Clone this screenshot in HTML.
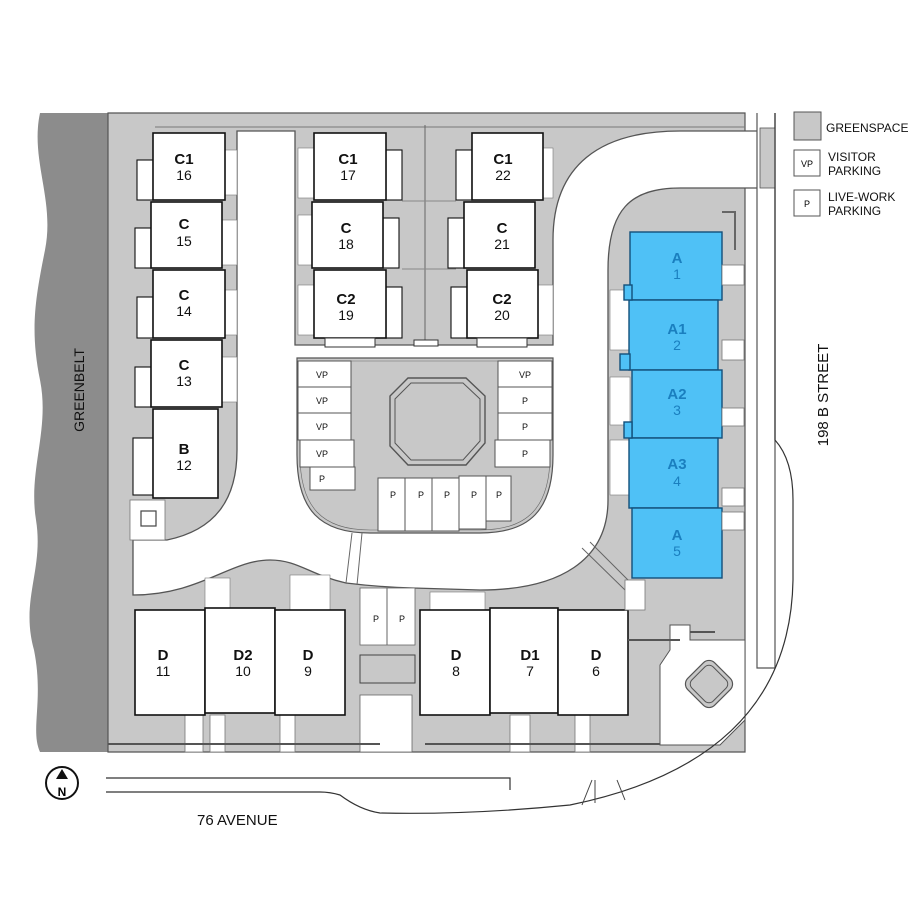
<!DOCTYPE html>
<html><head><style>
html,body{margin:0;padding:0;background:#fff;width:915px;height:915px;overflow:hidden}
svg{display:block}
text{font-family:"Liberation Sans",sans-serif}
.b{fill:#fff;stroke:#111;stroke-width:1.6}
.w{fill:#fff;stroke:#111;stroke-width:1.1}
.a{fill:#4fc1f6;stroke:#134f7a;stroke-width:1.4}
.s{fill:#fff;stroke:#555;stroke-width:1}
.l{font-size:15px;font-weight:bold;text-anchor:middle;fill:#111}
.n{font-size:14px;text-anchor:middle;fill:#111}
.al{font-size:15px;font-weight:bold;text-anchor:middle;fill:#1a7fbf}
.an{font-size:14px;text-anchor:middle;fill:#1a7fbf}
.p{font-size:9px;text-anchor:middle;fill:#111}
</style></head><body>
<svg width="915" height="915" viewBox="0 0 915 915" xmlns="http://www.w3.org/2000/svg">
<!-- greenbelt -->
<path d="M108 113 L40 113 C30 160,55 200,45 250 C35 300,30 330,40 380 C50 430,28 470,36 520 C44 570,20 600,34 650 C44 700,30 730,40 752 L108 752 Z" fill="#8c8c8c"/>
<text transform="translate(84,390) rotate(-90)" font-size="14" text-anchor="middle" fill="#111">GREENBELT</text>
<!-- site gray -->
<path d="M108 113 L745 113 L745 752 L108 752 Z" fill="#c8c8c8" stroke="#555" stroke-width="1.2"/>
<line x1="155" y1="127" x2="745" y2="127" stroke="#777" stroke-width="1"/>
<!-- road -->
<path fill="#fff" stroke="#555" stroke-width="1.3" d="M237 131 L295 131 L295 345 L553 345 L553 240 C553 165 600 131 680 131 L758 131 L758 188 L680 188 C630 188 608 210 608 270 L608 500 C608 560 560 590 480 590 L413 588 C380 587 362 585 346 583 C310 575 298 560 270 560 C230 560 200 595 133 595 L133 540 L167 540 C215 530 237 500 237 450 Z"/>
<!-- island -->
<path d="M297 358 L553 358 L553 455 C553 510 530 533 480 533 L370 533 C320 533 297 510 297 455 Z" fill="#c8c8c8" stroke="#555" stroke-width="1.2"/>
<path d="M300 361 L550 361 L550 455 C550 507 528 530 480 530 L370 530 C322 530 300 507 300 455 Z" fill="none" stroke="#666" stroke-width="0.6"/>
<!-- crossing path -->
<path d="M352 533 L346 583 M362 533 L357 585" stroke="#666" stroke-width="1"/>
<path d="M582 548 L625 590 M590 542 L630 582" stroke="#666" stroke-width="1"/>
<!-- pool -->
<path d="M408 378 L466 378 L485 396 L485 443 L466 465 L408 465 L390 446 L390 396 Z" fill="#c8c8c8" stroke="#555" stroke-width="1.4"/>
<path d="M411 383 L463 383 L480 399 L480 441 L463 460 L411 460 L395 443 L395 399 Z" fill="none" stroke="#555" stroke-width="1"/>
<!-- parking stalls -->
<rect class="s" x="298" y="361" width="53" height="26"/><text class="p" x="322" y="378">VP</text>
<rect class="s" x="298" y="387" width="53" height="26"/><text class="p" x="322" y="404">VP</text>
<rect class="s" x="298" y="413" width="53" height="27"/><text class="p" x="322" y="430">VP</text>
<rect class="s" x="300" y="440" width="54" height="27"/><text class="p" x="322" y="457">VP</text>
<rect class="s" x="310" y="467" width="45" height="23"/><text class="p" x="322" y="482">P</text>
<rect class="s" x="498" y="361" width="54" height="26"/><text class="p" x="525" y="378">VP</text>
<rect class="s" x="498" y="387" width="54" height="26"/><text class="p" x="525" y="404">P</text>
<rect class="s" x="498" y="413" width="54" height="27"/><text class="p" x="525" y="430">P</text>
<rect class="s" x="495" y="440" width="55" height="27"/><text class="p" x="525" y="457">P</text>
<rect class="s" x="378" y="478" width="27" height="53"/><text class="p" x="393" y="498">P</text>
<rect class="s" x="405" y="478" width="27" height="53"/><text class="p" x="421" y="498">P</text>
<rect class="s" x="432" y="478" width="27" height="53"/><text class="p" x="447" y="498">P</text>
<rect class="s" x="459" y="476" width="27" height="53"/><text class="p" x="474" y="498">P</text>
<rect class="s" x="486" y="476" width="25" height="45"/><text class="p" x="499" y="498">P</text>
<!-- left-bottom small -->
<rect x="130" y="500" width="35" height="40" fill="#fff" stroke="#777" stroke-width="0.8"/>
<rect x="141" y="511" width="15" height="15" fill="#fff" stroke="#444" stroke-width="1.2"/>
<!-- white strips east of left column -->
<rect x="225" y="150" width="12" height="45" fill="#fff" stroke="#777" stroke-width="0.6"/>
<rect x="222" y="220" width="15" height="45" fill="#fff" stroke="#777" stroke-width="0.6"/>
<rect x="225" y="290" width="12" height="45" fill="#fff" stroke="#777" stroke-width="0.6"/>
<rect x="222" y="357" width="15" height="45" fill="#fff" stroke="#777" stroke-width="0.6"/>
<!-- C buildings left -->
<rect class="w" x="137" y="160" width="16" height="40"/><rect class="w" x="135" y="228" width="16" height="40"/>
<rect class="w" x="137" y="297" width="16" height="41"/><rect class="w" x="135" y="367" width="16" height="40"/>
<rect class="w" x="133" y="438" width="20" height="57"/>
<rect class="b" x="153" y="133" width="72" height="67"/><text class="l" x="184" y="164">C1</text><text class="n" x="184" y="180">16</text>
<rect class="b" x="151" y="202" width="71" height="66"/><text class="l" x="184" y="229">C</text><text class="n" x="184" y="246">15</text>
<rect class="b" x="153" y="270" width="72" height="68"/><text class="l" x="184" y="300">C</text><text class="n" x="184" y="316">14</text>
<rect class="b" x="151" y="340" width="71" height="67"/><text class="l" x="184" y="370">C</text><text class="n" x="184" y="386">13</text>
<rect class="b" x="153" y="409" width="65" height="89"/><text class="l" x="184" y="454">B</text><text class="n" x="184" y="470">12</text>
<!-- middle/right groups -->
<rect x="298" y="148" width="16" height="50" fill="#fff" stroke="#777" stroke-width="0.6"/>
<rect x="298" y="215" width="14" height="50" fill="#fff" stroke="#777" stroke-width="0.6"/>
<rect x="298" y="285" width="16" height="50" fill="#fff" stroke="#777" stroke-width="0.6"/>
<rect x="543" y="148" width="10" height="50" fill="#fff" stroke="#777" stroke-width="0.6"/>
<rect x="538" y="285" width="15" height="50" fill="#fff" stroke="#777" stroke-width="0.6"/>
<line x1="425" y1="125" x2="425" y2="345" stroke="#666"/>
<line x1="402" y1="201" x2="456" y2="201" stroke="#888"/>
<line x1="402" y1="269" x2="456" y2="269" stroke="#888"/>
<rect class="w" x="386" y="150" width="16" height="50"/><rect class="w" x="383" y="218" width="16" height="50"/><rect class="w" x="386" y="287" width="16" height="51"/>
<rect class="w" x="456" y="150" width="16" height="50"/><rect class="w" x="448" y="218" width="16" height="50"/><rect class="w" x="451" y="287" width="16" height="51"/>
<rect class="b" x="314" y="133" width="72" height="67"/><text class="l" x="348" y="164">C1</text><text class="n" x="348" y="180">17</text>
<rect class="b" x="312" y="202" width="71" height="66"/><text class="l" x="346" y="233">C</text><text class="n" x="346" y="249">18</text>
<rect class="b" x="314" y="270" width="72" height="68"/><text class="l" x="346" y="304">C2</text><text class="n" x="346" y="320">19</text>
<rect class="b" x="472" y="133" width="71" height="67"/><text class="l" x="503" y="164">C1</text><text class="n" x="503" y="180">22</text>
<rect class="b" x="464" y="202" width="71" height="66"/><text class="l" x="502" y="233">C</text><text class="n" x="502" y="249">21</text>
<rect class="b" x="467" y="270" width="71" height="68"/><text class="l" x="502" y="304">C2</text><text class="n" x="502" y="320">20</text>
<rect x="325" y="338" width="50" height="9" fill="#fff" stroke="#333"/>
<rect x="477" y="338" width="50" height="9" fill="#fff" stroke="#333"/>
<rect x="414" y="340" width="24" height="6" fill="#fff" stroke="#333"/>
<!-- white strips beside A -->
<rect x="610" y="290" width="20" height="60" fill="#fff" stroke="#777" stroke-width="0.6"/>
<rect x="610" y="377" width="20" height="48" fill="#fff" stroke="#777" stroke-width="0.6"/>
<rect x="610" y="440" width="20" height="55" fill="#fff" stroke="#777" stroke-width="0.6"/>
<!-- A buildings -->
<rect class="a" x="630" y="232" width="92" height="68"/><text class="al" x="677" y="263">A</text><text class="an" x="677" y="279">1</text>
<rect class="a" x="629" y="300" width="89" height="70"/><text class="al" x="677" y="334">A1</text><text class="an" x="677" y="350">2</text>
<rect class="a" x="632" y="370" width="90" height="68"/><text class="al" x="677" y="399">A2</text><text class="an" x="677" y="415">3</text>
<rect class="a" x="629" y="438" width="89" height="70"/><text class="al" x="677" y="469">A3</text><text class="an" x="677" y="486">4</text>
<rect class="a" x="632" y="508" width="90" height="70"/><text class="al" x="677" y="540">A</text><text class="an" x="677" y="556">5</text>
<rect class="a" x="624" y="285" width="8" height="15"/><rect class="a" x="620" y="354" width="10" height="16"/><rect class="a" x="624" y="422" width="8" height="16"/>
<rect x="722" y="265" width="22" height="20" fill="#fff" stroke="#777" stroke-width="0.8"/>
<rect x="722" y="340" width="22" height="20" fill="#fff" stroke="#777" stroke-width="0.8"/>
<rect x="722" y="408" width="22" height="18" fill="#fff" stroke="#777" stroke-width="0.8"/>
<rect x="722" y="488" width="22" height="18" fill="#fff" stroke="#777" stroke-width="0.8"/>
<rect x="722" y="512" width="22" height="18" fill="#fff" stroke="#777" stroke-width="0.8"/>
<path d="M722 212 L735 212 L735 250" fill="none" stroke="#666" stroke-width="2"/>
<!-- bottom D -->
<rect x="360" y="588" width="55" height="57" fill="#fff" stroke="#666" stroke-width="0.8"/>
<line x1="387" y1="588" x2="387" y2="645" stroke="#666"/>
<text class="p" x="376" y="622">P</text><text class="p" x="402" y="622">P</text>
<rect x="360" y="655" width="55" height="28" fill="#c8c8c8" stroke="#444"/>
<rect x="360" y="695" width="52" height="57" fill="#fff" stroke="#666" stroke-width="0.8"/>
<rect x="185" y="715" width="18" height="37" fill="#fff" stroke="#777" stroke-width="0.8"/>
<rect x="210" y="715" width="15" height="37" fill="#fff" stroke="#777" stroke-width="0.8"/>
<rect x="280" y="715" width="15" height="37" fill="#fff" stroke="#777" stroke-width="0.8"/>
<rect x="510" y="715" width="20" height="37" fill="#fff" stroke="#777" stroke-width="0.8"/>
<rect x="575" y="715" width="15" height="37" fill="#fff" stroke="#777" stroke-width="0.8"/>
<rect x="205" y="578" width="25" height="30" fill="#fff" stroke="#777" stroke-width="0.6"/>
<rect x="290" y="575" width="40" height="35" fill="#fff" stroke="#777" stroke-width="0.6"/>
<rect x="430" y="592" width="55" height="18" fill="#fff" stroke="#777" stroke-width="0.6"/>
<rect class="b" x="135" y="610" width="70" height="105"/><text class="l" x="163" y="660">D</text><text class="n" x="163" y="676">11</text>
<rect class="b" x="205" y="608" width="70" height="105"/><text class="l" x="243" y="660">D2</text><text class="n" x="243" y="676">10</text>
<rect class="b" x="275" y="610" width="70" height="105"/><text class="l" x="308" y="660">D</text><text class="n" x="308" y="676">9</text>
<rect class="b" x="420" y="610" width="70" height="105"/><text class="l" x="456" y="660">D</text><text class="n" x="456" y="676">8</text>
<rect class="b" x="490" y="608" width="68" height="105"/><text class="l" x="530" y="660">D1</text><text class="n" x="530" y="676">7</text>
<rect class="b" x="558" y="610" width="70" height="105"/><text class="l" x="596" y="660">D</text><text class="n" x="596" y="676">6</text>
<line x1="108" y1="744" x2="380" y2="744" stroke="#555" stroke-width="2"/>
<line x1="425" y1="744" x2="660" y2="744" stroke="#555" stroke-width="2"/>
<!-- bottom right courtyard -->
<path d="M660 665 L670 650 L670 625 L690 625 L690 640 L745 640 L745 720 L720 745 L660 745 Z" fill="#fff" stroke="#555" stroke-width="1"/>
<path d="M628 640 L680 640 M690 632 L715 632" stroke="#555" stroke-width="2"/>
<rect x="690" y="665" width="38" height="38" rx="8" transform="rotate(45 709 684)" fill="#c8c8c8" stroke="#555" stroke-width="1.2"/>
<rect x="694" y="669" width="30" height="30" rx="6" transform="rotate(45 709 684)" fill="none" stroke="#555" stroke-width="1"/>
<rect x="625" y="580" width="20" height="30" fill="#fff" stroke="#777" stroke-width="0.8"/>
<!-- entrance and street -->
<path d="M757 113 L757 668 L775 668 L775 113" fill="#fff" stroke="#555" stroke-width="1.2"/>
<rect x="760" y="128" width="15" height="60" fill="#c8c8c8" stroke="#555" stroke-width="0.8"/>
<path d="M775 113 L775 440 Q793 460 793 500 L793 580 Q790 760 570 805 Q470 815 380 813 Q360 810 340 795 Q330 792 320 792 L106 792" fill="none" stroke="#333" stroke-width="1.2"/>
<path d="M106 778 L510 778 L510 790" fill="none" stroke="#333" stroke-width="1.2"/>
<path d="M592 780 L582 805 M617 780 L625 800 M595 780 L595 803" stroke="#444" stroke-width="1" fill="none"/>
<!-- north arrow -->
<circle cx="62" cy="783" r="16" fill="#fff" stroke="#111" stroke-width="2"/>
<path d="M62 769 L56 779 L68 779 Z" fill="#111"/>
<text x="62" y="796" font-size="12" font-weight="bold" text-anchor="middle">N</text>
<text x="197" y="825" font-size="15" fill="#111">76 AVENUE</text>
<text transform="translate(828,395) rotate(-90)" font-size="15" text-anchor="middle" fill="#111">198 B STREET</text>
<!-- legend -->
<rect x="794" y="112" width="27" height="28" fill="#c8c8c8" stroke="#555"/>
<text x="826" y="132" font-size="12" fill="#111">GREENSPACE</text>
<rect x="794" y="150" width="26" height="26" fill="#fff" stroke="#555"/>
<text x="807" y="167" font-size="9" text-anchor="middle">VP</text>
<text x="828" y="161" font-size="12" fill="#111">VISITOR</text>
<text x="828" y="175" font-size="12" fill="#111">PARKING</text>
<rect x="794" y="190" width="26" height="26" fill="#fff" stroke="#555"/>
<text x="807" y="207" font-size="9" text-anchor="middle">P</text>
<text x="828" y="201" font-size="12" fill="#111">LIVE-WORK</text>
<text x="828" y="215" font-size="12" fill="#111">PARKING</text>
</svg>
</body></html>
